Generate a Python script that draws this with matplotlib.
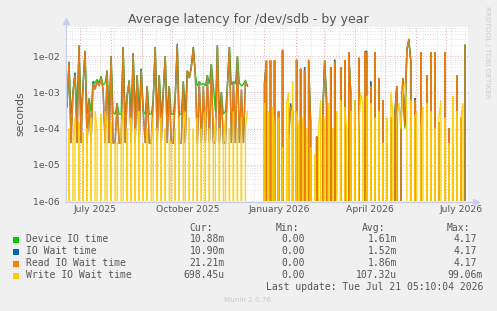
import matplotlib
matplotlib.use("Agg")
import matplotlib.pyplot as plt
from matplotlib.lines import Line2D
from matplotlib.patches import Rectangle
import pandas as pd

# ---------------- data ----------------
seg_a_start = "2025-06-18"
seg_b_start = "2025-12-30"
step = "2D"

device_a = [4e-4, 7e-3, 2.5e-4, 1e-3, 3.5e-3, 3e-4, 1.8e-2, 2.5e-4, 1.6e-3, 1.3e-2,
            2.5e-4, 7e-4, 3e-4, 2e-3, 1.8e-3, 2.3e-3, 1.8e-3, 2.8e-3, 1.6e-3, 1.8e-3,
            4e-3, 2.5e-4, 1e-2, 2.8e-4, 2.5e-4, 5e-4, 2.5e-4, 2.5e-4, 1.7e-2, 2.5e-4,
            8e-4, 2.2e-3, 2.5e-4, 1.2e-2, 2.5e-4, 3e-3, 2.5e-4, 4.5e-3, 3e-4, 2.5e-4,
            1.5e-3, 2.5e-4, 2.5e-4, 6e-4, 1.8e-2, 2.5e-4, 3e-3, 2.5e-4, 1e-3, 1e-2,
            2.5e-4, 1.5e-3, 2.5e-4, 2.5e-4, 8e-4, 2e-2, 2.5e-4, 2.5e-4, 2e-3, 3e-4,
            4e-3, 2.5e-3, 5e-3, 1.7e-2, 3e-3, 1.5e-3, 2e-3, 1.6e-3, 1.8e-3, 1.5e-3,
            3e-3, 1.7e-3, 6e-3, 1.6e-3, 3e-4, 2e-2, 2.5e-4, 1e-3, 2.5e-4, 3e-4,
            1.5e-3, 1.8e-2, 1.6e-3, 2e-3, 1.7e-3, 1e-2, 1.8e-3, 1.5e-3, 1.7e-3, 2.2e-3,
            1.5e-3]
iowait_a = [4e-4, 7e-3, 4e-5, 1e-3, 3.5e-3, 4e-5, 2e-2, 4e-5, 1.5e-3, 1.4e-2,
            4e-5, 6e-4, 4e-5, 2e-3, 1.2e-3, 2e-3, 1.5e-3, 2.5e-3, 1.2e-3, 4e-5,
            4e-3, 4e-5, 1e-2, 4e-5, 4e-5, 5e-4, 4e-5, 4e-5, 1.8e-2, 4e-5,
            8e-4, 2e-3, 4e-5, 1.2e-2, 4e-5, 3e-3, 4e-5, 4.5e-3, 3e-4, 4e-5,
            1.5e-3, 4e-5, 4e-5, 6e-4, 1.8e-2, 4e-5, 3e-3, 4e-5, 1e-3, 1e-2,
            4e-5, 1.5e-3, 4e-5, 4e-5, 8e-4, 2.2e-2, 4e-5, 4e-5, 2e-3, 4e-5,
            4e-3, 2.5e-3, 5e-3, 1.8e-2, 3e-3, 4e-5, 2e-3, 4e-5, 1.5e-3, 4e-5,
            3e-3, 4e-5, 6e-3, 4e-5, 4e-5, 2e-2, 4e-5, 1e-3, 4e-5, 4e-5,
            1.5e-3, 1.8e-2, 4e-5, 2e-3, 4e-5, 1e-2, 4e-5, 1.2e-3, 4e-5, 2e-3,
            1.5e-3]
read_a = [4e-4, 7e-3, 4e-5, 1e-3, 3e-3, 4e-5, 2e-2, 4e-5, 1.5e-3, 1.4e-2,
          4e-5, 6e-4, 4e-5, 1.8e-3, 1.2e-3, 2e-3, 1.5e-3, 2.5e-3, 1.2e-3, 4e-5,
          4e-3, 4e-5, 1e-2, 4e-5, 4e-5, 5e-4, 4e-5, 4e-5, 1.8e-2, 4e-5,
          8e-4, 2e-3, 4e-5, 1.2e-2, 4e-5, 3e-3, 4e-5, 4e-3, 3e-4, 4e-5,
          1.5e-3, 4e-5, 4e-5, 6e-4, 1.8e-2, 4e-5, 3e-3, 4e-5, 1e-3, 1e-2,
          4e-5, 1.5e-3, 4e-5, 4e-5, 8e-4, 2e-2, 4e-5, 4e-5, 2e-3, 4e-5,
          4e-3, 2.5e-3, 5e-3, 1.7e-2, 3e-3, 4e-5, 2e-3, 4e-5, 1.5e-3, 4e-5,
          3e-3, 4e-5, 6e-3, 4e-5, 4e-5, 2e-2, 4e-5, 1e-3, 4e-5, 4e-5,
          1.5e-3, 1.8e-2, 4e-5, 2e-3, 4e-5, 1e-2, 4e-5, 1.2e-3, 4e-5, 2e-3,
          1.5e-3]
write_a = [0, 1e-4, 0, 5e-5, 2e-4, 0, 1.5e-4, 0, 8e-5, 0,
           1e-4, 0, 2e-4, 0, 3e-4, 1e-4, 0, 2.5e-4, 0, 3e-4,
           1e-4, 0, 1.5e-4, 0, 4e-5, 4e-5, 0, 1e-4, 3e-4, 0,
           1e-4, 0, 2e-4, 0, 1e-4, 0, 3e-4, 0, 4e-5, 0,
           1e-4, 0, 5e-5, 2e-4, 0, 1e-4, 0, 2e-4, 0, 1e-4,
           0, 5e-5, 4e-5, 0, 1e-4, 0, 2e-4, 0, 1e-4, 3e-4,
           0, 2e-4, 0, 1e-4, 0, 2e-4, 0, 1e-4, 0, 3e-4,
           0, 1e-4, 0, 4e-5, 2e-4, 0, 1e-4, 0, 5e-5, 2e-4,
           0, 1e-4, 0, 3e-4, 0, 1e-4, 0, 2e-4, 0, 1e-4,
           3e-4]

device_b = [0, 1.8e-3, 7.5e-3, 0, 7.5e-3, 0, 7.5e-3, 0, 3e-4, 0,
            1.4e-2, 0, 0, 8e-5, 4e-4, 3e-4, 0, 7.5e-3, 0, 4.5e-3,
            0, 4e-3, 0, 7.5e-3, 1.5e-4, 0, 0, 6e-5, 0, 0,
            2e-4, 7.5e-3, 4e-4, 0, 5e-3, 0, 7e-3, 0, 0, 5e-3,
            0, 7.5e-3, 0, 1.3e-2, 1e-3, 0, 3e-4, 0, 9e-3, 0,
            0, 1.3e-2, 1.2e-2, 0, 1e-3, 0, 1.3e-2, 0, 2.5e-3, 0,
            6e-4, 0, 4e-5, 0, 2e-4, 0, 2e-4, 1.5e-3, 0, 1e-4,
            2.5e-3, 1e-4, 1.5e-2, 2.5e-2, 7e-3, 0, 6e-4, 0, 0, 1.3e-2,
            0, 0, 3e-3, 0, 1.3e-2, 0, 1.3e-2, 0, 1.5e-4, 0,
            0, 1.3e-2, 0, 1e-4, 0, 3e-5, 0, 3e-3, 0, 3e-5,
            0, 2e-2]
iowait_b = [0, 1.8e-3, 7.7e-3, 0, 7.7e-3, 0, 7.7e-3, 0, 3e-4, 0,
            1.5e-2, 0, 0, 5e-5, 5e-4, 3e-4, 0, 8e-3, 0, 4.5e-3,
            0, 5e-3, 0, 8e-3, 1.5e-4, 0, 0, 6e-5, 0, 0,
            2e-4, 7.7e-3, 7e-4, 0, 5e-3, 0, 8e-3, 0, 0, 5e-3,
            0, 7.7e-3, 0, 1.3e-2, 1e-3, 0, 6e-4, 0, 9e-3, 0,
            0, 1.3e-2, 1.4e-2, 0, 2e-3, 0, 1.3e-2, 0, 2.5e-3, 0,
            6e-4, 0, 4e-5, 0, 2e-4, 0, 3e-4, 1.5e-3, 0, 1.2e-4,
            2.5e-3, 1.2e-4, 1.5e-2, 3e-2, 7e-3, 0, 7e-4, 0, 0, 1.3e-2,
            0, 0, 3e-3, 0, 1.3e-2, 0, 1.3e-2, 0, 1.5e-4, 0,
            0, 1.3e-2, 0, 1e-4, 0, 3e-5, 0, 3e-3, 0, 2e-4,
            0, 2e-2]
read_b = [0, 1.8e-3, 7.7e-3, 0, 7.7e-3, 0, 7.7e-3, 0, 3e-4, 0,
          1.5e-2, 0, 0, 5e-5, 4e-4, 3e-4, 0, 8e-3, 0, 4.5e-3,
          0, 4e-3, 0, 8e-3, 1.5e-4, 0, 0, 6e-5, 0, 0,
          2e-4, 7.7e-3, 4e-4, 0, 5e-3, 0, 7e-3, 0, 0, 5e-3,
          0, 7.7e-3, 0, 1.3e-2, 1e-3, 0, 3e-4, 0, 9e-3, 0,
          0, 1.3e-2, 1.2e-2, 0, 1.5e-3, 0, 1.3e-2, 0, 2.5e-3, 0,
          6e-4, 0, 4e-5, 0, 2e-4, 0, 2e-4, 1.5e-3, 0, 1.2e-4,
          2.5e-3, 1.2e-4, 1.5e-2, 3e-2, 7e-3, 0, 6e-4, 0, 0, 1.3e-2,
          0, 0, 3e-3, 0, 1.3e-2, 0, 1.3e-2, 0, 1.5e-4, 0,
          0, 1.3e-2, 0, 1e-4, 0, 3e-5, 0, 3e-3, 0, 2e-4,
          0, 2e-2]
write_b = [0, 5e-4, 0, 3e-4, 0, 4e-4, 1e-4, 0, 2e-4, 0,
           3e-5, 0, 5e-4, 1e-3, 0, 2e-3, 0, 3e-4, 1e-4, 0,
           2e-4, 0, 1e-4, 0, 3e-5, 0, 2e-5, 0, 1e-4, 6e-4,
           0, 2e-4, 0, 5e-4, 0, 1e-4, 0, 3e-4, 0, 6e-4,
           0, 4e-4, 1e-4, 0, 3e-4, 0, 6e-4, 0, 1e-4, 1e-3,
           5e-4, 0, 8e-4, 0, 5e-4, 0, 2e-4, 0, 3e-4, 0,
           4e-5, 0, 2e-4, 0, 1e-3, 3e-4, 0, 2e-4, 5e-4, 1e-4,
           1e-3, 2e-3, 3e-4, 0, 6e-4, 0, 2e-4, 3e-4, 0, 1e-4,
           4e-4, 0, 5e-4, 0, 3e-4, 0, 1e-4, 0, 2e-4, 6e-4,
           0, 2e-4, 0, 4e-5, 0, 8e-4, 0, 3e-4, 0, 2e-4,
           5e-4, 0]

series_names = ["Device IO time", "IO Wait time", "Read IO Wait time", "Write IO Wait time"]
series_colors = ["#00CC00", "#0066B3", "#FF8000", "#FFCC00"]
cur_vals = ["10.88m", "10.90m", "21.21m", "698.45u"]
min_vals = ["0.00", "0.00", "0.00", "0.00"]
avg_vals = ["1.61m", "1.52m", "1.86m", "107.32u"]
max_vals = ["4.17", "4.17", "4.17", "99.06m"]

x_tick_dates = ["2025-07-16", "2025-10-16", "2026-01-16", "2026-04-16", "2026-07-16"]
x_tick_labels = ["July 2025", "October 2025", "January 2026", "April 2026", "July 2026"]
y_ticks = [1e-6, 1e-5, 1e-4, 1e-3, 1e-2]
y_tick_labels = ["1e-06", "1e-05", "1e-04", "1e-03", "1e-02"]
x_range = ("2025-06-18", "2026-07-23")
y_range = (1e-6, 6.4e-2)

title = "Average latency for /dev/sdb - by year"
last_update = "Last update: Tue Jul 21 05:10:04 2026"

# ---------------- figure ----------------
W, H = 497, 311
fig = plt.figure(figsize=(W / 100, H / 100), dpi=100, facecolor="#F0F0F0")

def fx(px):
    return px / W

def fy(py):
    return 1 - py / H

L, R, T, B = 67, 468, 27, 201
ax = fig.add_axes([fx(L), fy(B), (R - L) / W, (B - T) / H])
ax.set_facecolor("white")
ax.set_yscale("log", nonpositive="clip")
ax.set_ylim(*y_range)
x0, x1 = pd.Timestamp(x_range[0]), pd.Timestamp(x_range[1])
ax.set_xlim(x0, x1)
for s in ax.spines.values():
    s.set_visible(False)

# grid
minor_c = "#D8D8D8"
major_c = "#E8A8A8"
dot = (0, (1, 2))
for d in [1e-6, 1e-5, 1e-4, 1e-3, 1e-2]:
    for m in range(2, 10):
        v = m * d
        if v < y_range[1]:
            ax.axhline(v, color=minor_c, lw=0.6, ls=dot, zorder=1)
for d in y_ticks:
    ax.axhline(d, color=major_c, lw=0.7, ls=dot, zorder=1.5)
for t in pd.date_range("2025-06-23", x_range[1], freq="14D"):
    ax.axvline(t, color=minor_c, lw=0.6, ls=dot, zorder=1)
for t in pd.date_range("2025-07-01", x_range[1], freq="MS"):
    ax.axvline(t, color=major_c, lw=0.7, ls=dot, zorder=1.5)

# data lines
segments = [
    (seg_a_start, [device_a, iowait_a, read_a, write_a]),
    (seg_b_start, [device_b, iowait_b, read_b, write_b]),
]
for start, group in segments:
    for i, vals in enumerate(group):
        dates = pd.date_range(start, periods=len(vals), freq=step)
        ax.plot(dates, vals, color=series_colors[i], lw=1.0, zorder=3 + i,
                solid_joinstyle="miter", alpha=0.9)

# ticks
ax.set_yticks(y_ticks)
ax.set_yticklabels(y_tick_labels)
ax.yaxis.set_minor_locator(matplotlib.ticker.NullLocator())
ax.set_xticks([pd.Timestamp(d) for d in x_tick_dates])
ax.set_xticklabels(x_tick_labels)
ax.tick_params(axis="both", which="both", length=0, labelsize=6.7, colors="#555555", pad=3)
ax.tick_params(axis="y", pad=5)
ax.set_ylabel("seconds", fontsize=7.8, color="#555555", labelpad=6)

# axes with arrows
axis_c = "#C8CCF0"
fig.add_artist(Line2D([fx(L - 1), fx(L - 1)], [fy(B + 1), fy(21)], transform=fig.transFigure,
                      color=axis_c, lw=0.9))
fig.add_artist(Line2D([fx(L - 1), fx(476)], [fy(B + 1), fy(B + 1)], transform=fig.transFigure,
                      color=axis_c, lw=0.9))
fig.add_artist(Line2D([fx(L - 1)], [fy(21)], transform=fig.transFigure, marker="^",
                      markersize=4, color=axis_c, lw=0))
fig.add_artist(Line2D([fx(476)], [fy(B + 1)], transform=fig.transFigure, marker=">",
                      markersize=4, color=axis_c, lw=0))

# title & side text
fig.text(fx(248.5), fy(19), title, ha="center", va="center", fontsize=9, color="#555555")
fig.text(fx(487), fy(52), "RRDTOOL / TOBI OETIKER", ha="center", va="center",
         rotation=270, fontsize=5.2, color="#CCCCCC")

# legend table
mono = "DejaVu Sans Mono"
fs = 7
tc = "#555555"
hdr_y = 228
fig.text(fx(213), fy(hdr_y), "Cur:", ha="right", va="center", family=mono, fontsize=fs, color=tc)
fig.text(fx(299), fy(hdr_y), "Min:", ha="right", va="center", family=mono, fontsize=fs, color=tc)
fig.text(fx(385), fy(hdr_y), "Avg:", ha="right", va="center", family=mono, fontsize=fs, color=tc)
fig.text(fx(470), fy(hdr_y), "Max:", ha="right", va="center", family=mono, fontsize=fs, color=tc)

def end_x(val, base):
    return base if val[-1].isalpha() else base - 6

rows_y = [239.5, 251.5, 263.5, 275.5]
for i, ry in enumerate(rows_y):
    fig.add_artist(Rectangle((fx(13), fy(ry + 3)), 6 / W, 6 / H, transform=fig.transFigure,
                             facecolor=series_colors[i], edgecolor="none"))
    fig.text(fx(26), fy(ry), series_names[i], ha="left", va="center", family=mono,
             fontsize=fs, color=tc)
    fig.text(fx(end_x(cur_vals[i], 225)), fy(ry), cur_vals[i], ha="right", va="center",
             family=mono, fontsize=fs, color=tc)
    fig.text(fx(end_x(min_vals[i], 311)), fy(ry), min_vals[i], ha="right", va="center",
             family=mono, fontsize=fs, color=tc)
    fig.text(fx(end_x(avg_vals[i], 397)), fy(ry), avg_vals[i], ha="right", va="center",
             family=mono, fontsize=fs, color=tc)
    fig.text(fx(end_x(max_vals[i], 483)), fy(ry), max_vals[i], ha="right", va="center",
             family=mono, fontsize=fs, color=tc)

fig.text(fx(483), fy(287.5), last_update, ha="right", va="center", family=mono,
         fontsize=fs, color=tc)
fig.text(fx(248), fy(300.5), "Munin 2.0.76", ha="center", va="center", fontsize=5.2,
         color="#CCCCCC")

fig.savefig("out.png", dpi=100, facecolor=fig.get_facecolor())
